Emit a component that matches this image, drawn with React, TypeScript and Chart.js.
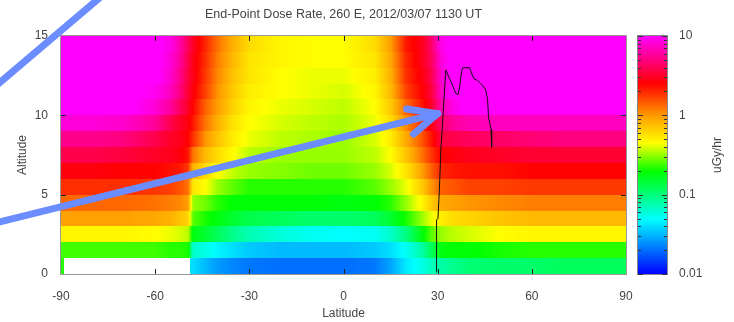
import React, { useEffect, useRef } from "react";
import { Chart, registerables } from "chart.js";

Chart.register(...registerables);

const TITLE = "End-Point Dose Rate, 260 E, 2012/03/07 1130 UT";
const X_LABEL = "Latitude";
const Y_LABEL = "Altitude";
const CB_LABEL = "uGy/hr";

const LAT_MIN = -90;
const LAT_MAX = 90;
const LAT_STEP = 30;
const ALT_MIN = 0;
const ALT_MAX = 15;
const ALT_STEP = 5;
const CB_MIN = 0.01;
const CB_MAX = 10;
const CB_TICKS = [0.01, 0.1, 1, 10];

// Latitude columns of the dose grid (deg)
const LATITUDES = [-90, -88, -80, -70, -60, -55, -52, -49.5, -48, -44, -40, -35, -30, -20, -10, 0, 10, 15, 20, 25, 28, 31, 35, 40, 50, 60, 70, 80, 90];
// Lower edge of each 1 km altitude band (km)
const ALTITUDE_BANDS = [0, 1, 2, 3, 4, 5, 6, 7, 8, 9, 10, 11, 12, 13, 14];
const BAND_DEPTH = 1;

// Dose rate (uGy/hr) per altitude band, one value per latitude column
const DOSE_00 = [0.22, null, null, null, null, null, null, null, 0.04, 0.032, 0.026, 0.023, 0.021, 0.02, 0.02, 0.02, 0.021, 0.028, 0.043, 0.056, 0.069, 0.079, 0.091, 0.105, 0.11, 0.11, 0.12, 0.12, 0.12];
const DOSE_01 = [0.24, 0.24, 0.24, 0.24, 0.24, 0.22, 0.22, 0.21, 0.065, 0.056, 0.046, 0.04, 0.035, 0.032, 0.032, 0.032, 0.035, 0.04, 0.052, 0.079, 0.12, 0.18, 0.19, 0.19, 0.21, 0.22, 0.22, 0.22, 0.22];
const DOSE_02 = [0.48, 0.48, 0.48, 0.48, 0.45, 0.42, 0.39, 0.36, 0.18, 0.15, 0.12, 0.091, 0.074, 0.06, 0.052, 0.049, 0.052, 0.065, 0.098, 0.18, 0.26, 0.32, 0.36, 0.39, 0.45, 0.48, 0.48, 0.48, 0.48];
const DOSE_03 = [0.95, 0.95, 0.95, 0.95, 0.89, 0.83, 0.72, 0.63, 0.26, 0.21, 0.18, 0.15, 0.13, 0.12, 0.11, 0.11, 0.12, 0.15, 0.21, 0.32, 0.42, 0.51, 0.59, 0.63, 0.72, 0.78, 0.78, 0.78, 0.78];
const DOSE_04 = [1.35, 1.35, 1.35, 1.35, 1.26, 1.17, 1.1, 0.95, 0.32, 0.28, 0.22, 0.19, 0.19, 0.19, 0.19, 0.18, 0.19, 0.22, 0.32, 0.48, 0.68, 0.89, 0.95, 1.02, 1.1, 1.17, 1.17, 1.17, 1.17];
const DOSE_05 = [1.9, 1.9, 1.9, 1.9, 1.8, 1.7, 1.5, 1.26, 0.55, 0.45, 0.32, 0.26, 0.22, 0.22, 0.22, 0.22, 0.26, 0.32, 0.42, 0.68, 1.02, 1.4, 1.5, 1.7, 1.7, 1.8, 1.8, 1.8, 1.8];
const DOSE_06 = [2.7, 2.7, 2.7, 2.5, 2.5, 2.3, 2.2, 1.8, 0.83, 0.59, 0.45, 0.36, 0.32, 0.3, 0.28, 0.28, 0.32, 0.39, 0.55, 0.95, 1.4, 2.0, 2.2, 2.3, 2.3, 2.5, 2.5, 2.5, 2.5];
const DOSE_07 = [3.8, 3.8, 3.8, 3.5, 3.1, 2.9, 2.7, 2.2, 1.26, 0.78, 0.59, 0.45, 0.36, 0.32, 0.32, 0.32, 0.36, 0.45, 0.72, 1.26, 1.8, 2.5, 2.7, 2.9, 3.1, 3.3, 3.3, 3.3, 3.3];
const DOSE_08 = [5.4, 5.4, 5.4, 5.0, 3.8, 3.1, 2.9, 2.5, 1.9, 1.02, 0.72, 0.51, 0.42, 0.36, 0.34, 0.32, 0.39, 0.51, 0.89, 1.5, 2.2, 3.5, 3.8, 4.1, 4.4, 4.7, 5.0, 5.0, 5.0];
const DOSE_09 = [8.1, 8.1, 8.1, 7.6, 5.8, 3.8, 3.1, 2.7, 2.2, 1.26, 0.83, 0.55, 0.45, 0.39, 0.36, 0.34, 0.42, 0.59, 1.1, 1.9, 2.7, 4.4, 5.8, 6.6, 7.1, 7.1, 7.1, 7.1, 7.1];
const DOSE_10 = [11, 11, 11, 11, 8.1, 5.8, 4.1, 3.1, 2.5, 1.4, 0.95, 0.63, 0.48, 0.42, 0.39, 0.36, 0.45, 0.68, 1.35, 2.2, 3.1, 6.2, 8.7, 11, 11, 11, 11, 11, 11];
const DOSE_11 = [11, 11, 11, 11, 9.3, 7.1, 5.0, 3.3, 2.7, 1.7, 1.02, 0.68, 0.51, 0.45, 0.42, 0.39, 0.48, 0.78, 1.7, 2.5, 3.5, 7.1, 11, 11, 11, 11, 11, 11, 11];
const DOSE_12 = [11, 11, 11, 11, 11, 7.6, 5.4, 3.5, 2.9, 1.8, 1.1, 0.72, 0.55, 0.45, 0.42, 0.42, 0.51, 0.83, 1.9, 2.7, 3.8, 7.6, 11, 11, 11, 11, 11, 11, 11];
const DOSE_13 = [11, 11, 11, 11, 11, 8.1, 5.8, 3.8, 2.9, 1.9, 1.17, 0.78, 0.55, 0.48, 0.45, 0.45, 0.55, 0.89, 2.0, 2.9, 4.1, 8.1, 11, 11, 11, 11, 11, 11, 11];
const DOSE_14 = [11, 11, 11, 11, 11, 8.7, 6.2, 4.1, 3.1, 2.0, 1.26, 0.83, 0.59, 0.48, 0.45, 0.45, 0.59, 0.95, 2.2, 2.9, 4.4, 8.7, 11, 11, 11, 11, 11, 11, 11];
const DOSE_ROWS = [DOSE_00, DOSE_01, DOSE_02, DOSE_03, DOSE_04, DOSE_05, DOSE_06, DOSE_07, DOSE_08, DOSE_09, DOSE_10, DOSE_11, DOSE_12, DOSE_13, DOSE_14];

// Flight track (latitude deg, altitude km)
const TRACK_LAT = [29.7, 29.6, 29.7, 30.1, 30.4, 30.7, 31.0, 31.5, 32.0, 32.6, 33.6, 34.7, 35.7, 36.5, 37.0, 37.6, 38.0, 40.2, 41.1, 41.6, 42.7, 43.7, 44.3, 45.3, 45.9, 46.2, 47.0, 47.2];
const TRACK_ALT = [0.1, 1.5, 3.4, 3.5, 4.7, 6.1, 7.8, 9.3, 11.0, 12.85, 12.4, 11.9, 11.4, 11.3, 11.8, 12.75, 13.0, 13.0, 12.5, 12.3, 12.2, 12.0, 11.9, 11.6, 11.0, 9.9, 9.1, 8.0];

// Annotation arrows (in latitude/altitude coordinates)
const ARROW_LINES = [
  [{ lat: -112.7, alt: 11.53 }, { lat: -74.4, alt: 17.96 }],
  [{ lat: -109.5, alt: 3.28 }, { lat: 30.0, alt: 10.11 }],
  [{ lat: 20.1, alt: 10.4 }, { lat: 30.0, alt: 10.11 }],
  [{ lat: 22.3, alt: 8.82 }, { lat: 30.0, alt: 10.11 }],
];

const TEXT_COLOR = "#444";
const ARROW_COLOR = "#6b8dff";
const CMAP: number[][] = [
  [0.0, 0, 0, 255],
  [0.23, 0, 255, 255],
  [0.43, 0, 255, 0],
  [0.55, 255, 255, 0],
  [0.66, 255, 160, 0],
  [0.8, 255, 0, 0],
  [1.0, 255, 0, 255],
];

function colorFor(dose: number): string {
  const lmin = Math.log10(CB_MIN), lmax = Math.log10(CB_MAX);
  let f = (Math.log10(dose) - lmin) / (lmax - lmin);
  f = Math.min(1, Math.max(0, f));
  let i = 0;
  while (i < CMAP.length - 2 && f > CMAP[i + 1][0]) i++;
  const a = CMAP[i], b = CMAP[i + 1];
  const t = (f - a[0]) / (b[0] - a[0]);
  const r = Math.round(a[1] + (b[1] - a[1]) * t);
  const g = Math.round(a[2] + (b[2] - a[2]) * t);
  const bl = Math.round(a[3] + (b[3] - a[3]) * t);
  return `rgb(${r},${g},${bl})`;
}

function doseAt(row: (number | null)[], lat: number): number | null {
  let i = 0;
  while (i < LATITUDES.length - 2 && lat > LATITUDES[i + 1]) i++;
  const a = row[i], b = row[i + 1];
  const t = Math.min(1, Math.max(0, (lat - LATITUDES[i]) / (LATITUDES[i + 1] - LATITUDES[i])));
  if (a == null && b == null) return null;
  if (a == null) return t >= 0.5 ? (b as number) : null;
  if (b == null) return t < 0.5 ? a : null;
  return Math.pow(10, Math.log10(a) * (1 - t) + Math.log10(b) * t);
}

const heatmapPlugin = {
  id: "heatmap",
  beforeDatasetsDraw(chart: any) {
    const { ctx, chartArea: a, scales } = chart;
    const xs = scales.x, ys = scales.y;
    ctx.save();
    ctx.beginPath();
    ctx.rect(a.left, a.top, a.right - a.left, a.bottom - a.top);
    ctx.clip();
    const x0 = Math.floor(a.left), x1 = Math.ceil(a.right);
    for (let k = 0; k < DOSE_ROWS.length; k++) {
      const row = DOSE_ROWS[k];
      const yTop = Math.round(ys.getPixelForValue(ALTITUDE_BANDS[k] + BAND_DEPTH));
      const yBot = Math.round(ys.getPixelForValue(ALTITUDE_BANDS[k]));
      for (let px = x0; px < x1; px++) {
        const lat = xs.getValueForPixel(px + 0.5);
        const d = doseAt(row, lat);
        if (d == null) continue;
        ctx.fillStyle = colorFor(d);
        ctx.fillRect(px, yTop, 1, yBot - yTop);
      }
    }
    ctx.restore();
  },
};

const framePlugin = {
  id: "frame",
  afterDatasetsDraw(chart: any) {
    const { ctx, chartArea: a, scales } = chart;
    ctx.save();
    ctx.strokeStyle = "#999";
    ctx.lineWidth = 1;
    ctx.strokeRect(Math.round(a.left) - 0.5, Math.round(a.top) - 0.5, Math.round(a.right - a.left) + 1, Math.round(a.bottom - a.top) + 1);
    ctx.strokeStyle = "#222";
    ctx.beginPath();
    for (const t of scales.x.ticks) {
      if (t.value <= LAT_MIN || t.value >= LAT_MAX) continue;
      const x = Math.round(scales.x.getPixelForValue(t.value)) + 0.5;
      ctx.moveTo(x, a.top); ctx.lineTo(x, a.top + 5);
      ctx.moveTo(x, a.bottom); ctx.lineTo(x, a.bottom - 5);
    }
    for (const t of scales.y.ticks) {
      if (t.value <= ALT_MIN || t.value >= ALT_MAX) continue;
      const y = Math.round(scales.y.getPixelForValue(t.value)) + 0.5;
      ctx.moveTo(a.left, y); ctx.lineTo(a.left + 5, y);
      ctx.moveTo(a.right, y); ctx.lineTo(a.right - 5, y);
    }
    ctx.stroke();
    ctx.restore();
  },
};

const colorbarPlugin = {
  id: "colorbar",
  afterDraw(chart: any) {
    const { ctx, chartArea: a, scales } = chart;
    const cb = scales.cb;
    const x0 = Math.round(cb.left) + 12, x1 = Math.round(cb.left) + 41;
    const top = Math.round(a.top), bot = Math.round(a.bottom);
    ctx.save();
    for (let py = top; py < bot; py++) {
      ctx.fillStyle = colorFor(cb.getValueForPixel(py + 0.5));
      ctx.fillRect(x0, py, x1 - x0, 1);
    }
    ctx.strokeStyle = "#888";
    ctx.lineWidth = 1;
    ctx.strokeRect(x0 - 0.5, top - 0.5, x1 - x0 + 1, bot - top + 1);
    ctx.strokeStyle = "#333";
    ctx.beginPath();
    for (let n = -2; n <= 1; n++) {
      for (let k = 1; k <= 9; k++) {
        const v = k * Math.pow(10, n);
        if (v > CB_MAX * 1.0001) break;
        const y = Math.round(cb.getPixelForValue(v)) + 0.5;
        const len = k === 1 ? 5 : 3;
        ctx.moveTo(x0, y); ctx.lineTo(x0 + len, y);
        ctx.moveTo(x1, y); ctx.lineTo(x1 - len, y);
      }
    }
    ctx.stroke();
    ctx.fillStyle = TEXT_COLOR;
    ctx.font = "12px 'Liberation Sans', Arial, sans-serif";
    ctx.textAlign = "center";
    ctx.textBaseline = "middle";
    ctx.translate(Math.round(cb.left) + 92, (a.top + a.bottom) / 2);
    ctx.rotate(-Math.PI / 2);
    ctx.fillText(CB_LABEL, 0, 0);
    ctx.restore();
  },
};

const arrowPlugin = {
  id: "arrows",
  afterDraw(chart: any) {
    const { ctx, scales } = chart;
    ctx.save();
    ctx.strokeStyle = ARROW_COLOR;
    ctx.lineWidth = 7;
    ctx.lineCap = "round";
    ctx.lineJoin = "round";
    for (const [p, q] of ARROW_LINES) {
      ctx.beginPath();
      ctx.moveTo(scales.x.getPixelForValue(p.lat), scales.y.getPixelForValue(p.alt));
      ctx.lineTo(scales.x.getPixelForValue(q.lat), scales.y.getPixelForValue(q.alt));
      ctx.stroke();
    }
    ctx.restore();
  },
};

export default function App() {
  const ref = useRef<HTMLCanvasElement>(null);
  useEffect(() => {
    Chart.defaults.font.family = "'Liberation Sans', Arial, Helvetica, sans-serif";
    Chart.defaults.color = TEXT_COLOR;
    const chart = new Chart(ref.current as HTMLCanvasElement, {
      type: "scatter",
      data: {
        datasets: [
          {
            label: "Flight track",
            data: TRACK_LAT.map((x, i) => ({ x, y: TRACK_ALT[i] })),
            showLine: true,
            borderColor: "#111",
            borderWidth: 1,
            pointRadius: 0,
            tension: 0,
            xAxisID: "x",
            yAxisID: "y",
          },
        ],
      },
      options: {
        responsive: false,
        maintainAspectRatio: false,
        devicePixelRatio: 1,
        animation: false,
        layout: { padding: 0 },
        plugins: {
          legend: { display: false },
          tooltip: { enabled: false },
          title: {
            display: true,
            text: TITLE,
            fullSize: false,
            color: TEXT_COLOR,
            font: { size: 12.5, weight: "normal" },
            padding: { top: 7, bottom: 14 },
          },
        },
        scales: {
          x: {
            type: "linear",
            position: "bottom",
            min: LAT_MIN,
            max: LAT_MAX,
            grid: { display: false, drawTicks: false },
            border: { display: false },
            ticks: { stepSize: LAT_STEP, padding: 15, maxRotation: 0, autoSkip: false, color: TEXT_COLOR, font: { size: 12 } },
            title: { display: true, text: X_LABEL, color: TEXT_COLOR, font: { size: 12 }, padding: { top: 0, bottom: 1 } },
            afterFit: (s: any) => { s.height = 48; },
          },
          y: {
            type: "linear",
            position: "left",
            min: ALT_MIN,
            max: ALT_MAX,
            grid: { display: false, drawTicks: false },
            border: { display: false },
            ticks: { stepSize: ALT_STEP, padding: 13, color: TEXT_COLOR, font: { size: 12 } },
            title: { display: true, text: Y_LABEL, color: TEXT_COLOR, font: { size: 12 }, padding: { top: 15, bottom: 0 } },
            afterFit: (s: any) => { s.width = 61; },
          },
          cb: {
            type: "logarithmic",
            position: "right",
            min: CB_MIN,
            max: CB_MAX,
            grid: { display: false, drawTicks: true, tickLength: 50 },
            border: { display: false },
            ticks: { padding: 3, color: TEXT_COLOR, font: { size: 12 }, callback: (v: any) => String(v) },
            afterBuildTicks: (s: any) => { s.ticks = CB_TICKS.map((value) => ({ value })); },
            afterFit: (s: any) => { s.width = 108; },
          },
        },
      } as any,
      plugins: [heatmapPlugin, framePlugin, colorbarPlugin, arrowPlugin],
    });
    return () => chart.destroy();
  }, []);
  return (
    <div style={{ position: "fixed", left: 0, top: 0, width: 734, height: 322, background: "#fff" }}>
      <canvas ref={ref} width={734} height={322} style={{ display: "block", width: 734, height: 322 }} />
    </div>
  );
}
